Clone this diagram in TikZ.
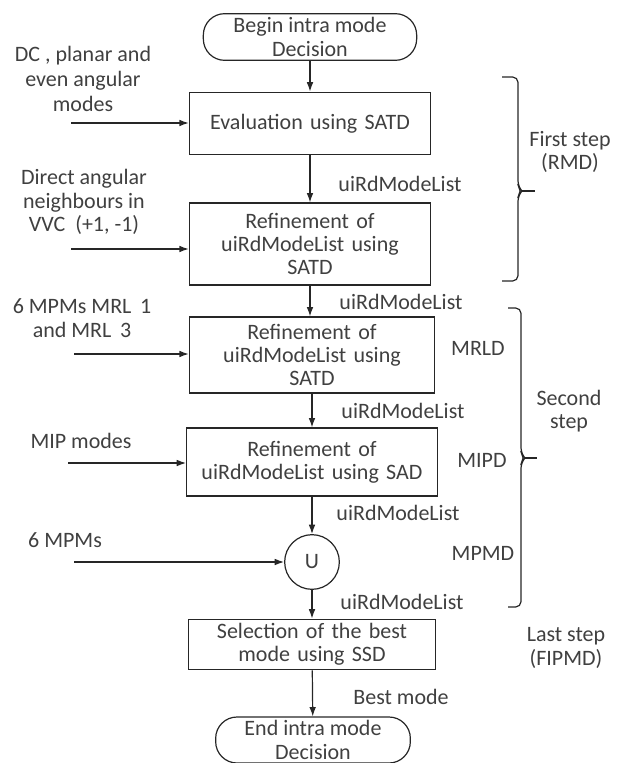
\documentclass[tikz,border=0pt]{standalone}
\usepackage{fontspec}
\setmainfont{Carlito}
\usetikzlibrary{arrows.meta}
\begin{document}
\begin{tikzpicture}[x=0.75pt,y=-0.75pt,line width=0.9pt,draw=black!85,
 every node/.style={font=\fontsize{16.5}{17.5}\selectfont,text=black!75,align=center,inner sep=0pt},
 proc/.style={draw,minimum width=181pt,text width=178pt},
 term/.style={draw,rounded corners=16pt,minimum height=35pt},
 flow/.style={-{Latex[length=7pt,width=5pt]}}]
 \useasboundingbox (0,0) rectangle (620,763);
 \node [term,minimum width=160pt] (begin) at (310,37) {Begin intra mode\\Decision};
 \node [proc,minimum height=47pt] (eval) at (310,123.5) {Evaluation using SATD};
 \node [proc,minimum height=61.5pt] (refa) at (310,244) {Refinement of\\uiRdModeList using\\SATD};
 \node [proc,minimum height=57pt,minimum width=184pt] (refb) at (312,355) {Refinement of\\uiRdModeList using\\SATD};
 \node [proc,minimum height=51pt,minimum width=188pt] (refc) at (312,462) {Refinement of\\uiRdModeList using SAD};
 \node [draw,circle,minimum size=41pt] (union) at (312,562) {U};
 \node [proc,minimum height=38pt,minimum width=185pt] (select) at (312,644.5) {Selection of the best\\mode using SSD};
 \node [term,minimum width=146pt,minimum height=34.5pt] (end) at (313,740) {End intra mode\\Decision};

 \draw [flow] (begin) -- (eval);
 \draw [flow] (eval) -- (refa);
 \draw [flow] (refa.south) -- (refa.south |- refb.north);
 \draw [flow] (refb.south) -- (refb.south |- refc.north);
 \draw [flow] (refc.south) -- (refc.south |- union.north);
 \draw [flow] (union) -- (select);
 \draw [flow] (select) -- (end);

 \node (lista) at (400,184) {uiRdModeList};
 \node (listb) at (401,302) {uiRdModeList};
 \node (listc) at (403,411) {uiRdModeList};
 \node (listd) at (398,513) {uiRdModeList};
 \node (liste) at (402,602) {uiRdModeList};
 \node (best) at (401,697) {Best mode};

 \node [font=\fontsize{16.5}{18.8}\selectfont] (ina) at (83,79) {DC , planar and\\even angular\\modes};
 \node (inb) at (84,202) {Direct angular\\neighbours in\\VVC \ (+1, -1)};
 \node (inc) at (82,318) {6 MPMs MRL \,1\\and MRL \,3};
 \node (ind) at (81,441) {MIP modes};
 \node (ine) at (65,540) {6 MPMs};
 \coordinate (ina0) at (71,123);
 \coordinate (inb0) at (71,249);
 \coordinate (inc0) at (74,354);
 \coordinate (ind0) at (68,463);
 \coordinate (ine0) at (74,562);
 \draw [flow] (ina0) -- (ina0 -| eval.west);
 \draw [flow] (inb0) -- (inb0 -| refa.west);
 \draw [flow] (inc0) -- (inc0 -| refb.west);
 \draw [flow] (ind0) -- (ind0 -| refc.west);
 \draw [flow] (ine0) -- (union);

 \node (mrld) at (478,348) {MRLD};
 \node (mipd) at (482,460) {MIPD};
 \node (mpmd) at (483,553) {MPMD};
 \node (first) at (570,152) {First step\\(RMD)};
 \node (second) at (569,411) {Second\\step};
 \node (last) at (566,648) {Last step\\(FIPMD)};

 \draw [rounded corners=4] (502,77) -- (518,77) -- (518,186) -- (522,191) -- (518,196) -- (518,281) -- (502,281);
 \draw (521,191) -- (535,191);
 \draw [rounded corners=4] (508,308) -- (521,308) -- (521,453) -- (525,458) -- (521,463) -- (521,607) -- (508,607);
 \draw (524,458) -- (537,458);
\end{tikzpicture}
\end{document}
